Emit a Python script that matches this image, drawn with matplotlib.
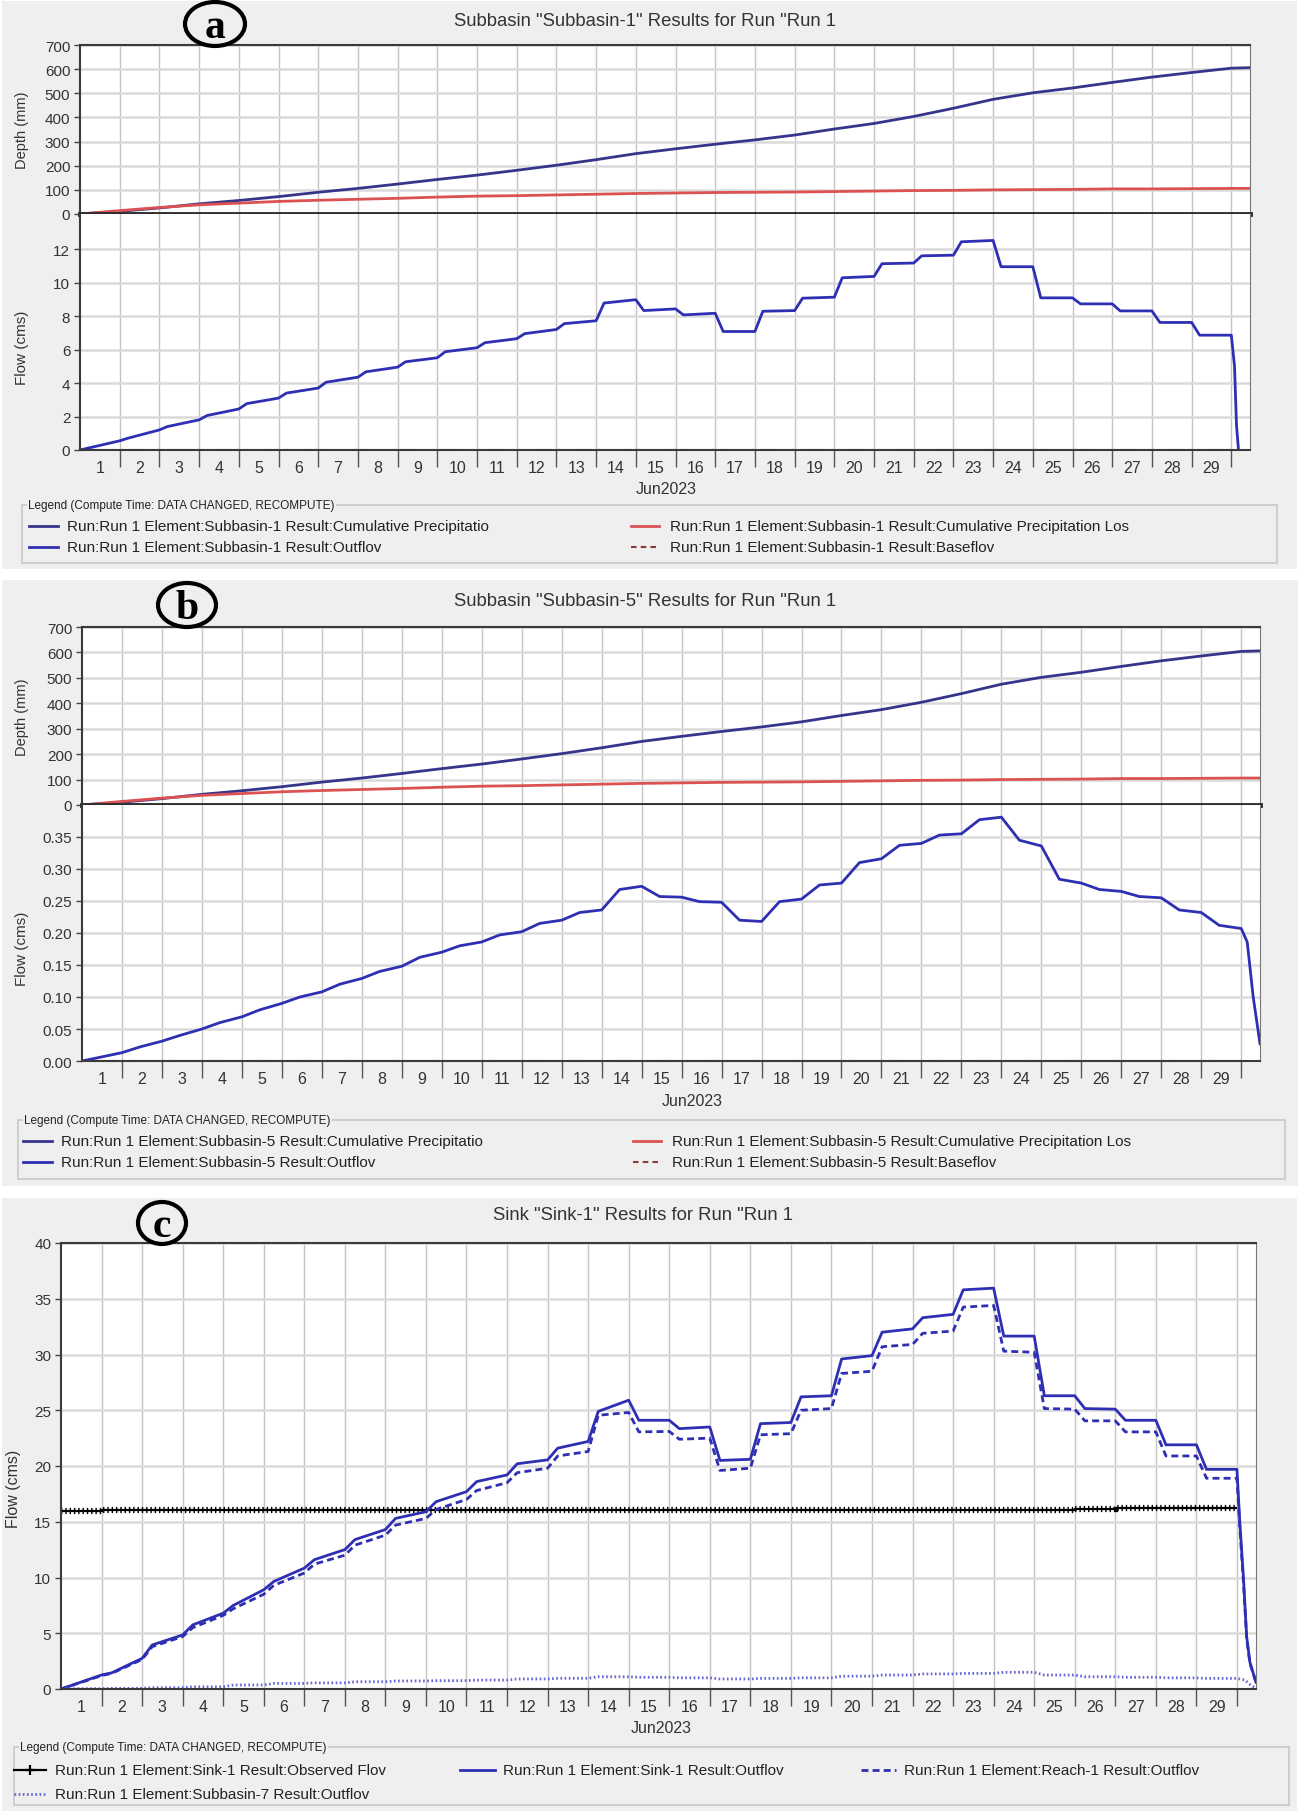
import numpy as np
import matplotlib
matplotlib.use("Agg")
import matplotlib.pyplot as plt
from matplotlib import font_manager
from matplotlib.lines import Line2D
from matplotlib.patches import Rectangle, Ellipse

# ---- data (x in days since 1 Jun 2023 00:00) ----
day_labels = [str(d) for d in range(1, 30)]

# cumulative depth (mm) at each day boundary 0..29 and at the end of the run
depth_days = list(range(30)) + [29.45]
precip_cum = [0, 11, 25, 42, 56, 72, 90, 106, 124, 143, 161, 181, 202, 225, 250,
              270, 289, 307, 327, 352, 375, 404, 438, 475, 502, 522, 545, 567,
              586, 604, 606]
loss_cum = [0, 14, 27, 38, 45, 52, 57, 61, 65, 70, 74, 76, 79, 82, 85, 87, 89,
            90, 91, 93, 95, 97, 98, 100, 101, 102, 104, 104, 105, 106, 106]
baseflow = [0.0] * 29

# Subbasin-1 outflow (cms): level just after the daily step and at the end of each day
flow1_start = [0.0, 0.7, 1.4, 2.06, 2.77, 3.4, 4.05, 4.67, 5.27, 5.87, 6.41, 6.95,
               7.55, 8.78, 8.33, 8.07, 7.08, 8.29, 9.07, 10.29, 11.13, 11.6, 12.44,
               10.95, 9.09, 8.73, 8.31, 7.62, 6.86]
flow1_end = [0.55, 1.2, 1.8, 2.45, 3.1, 3.7, 4.35, 4.95, 5.51, 6.11, 6.65, 7.2,
             7.72, 8.98, 8.43, 8.17, 7.08, 8.33, 9.13, 10.37, 11.17, 11.64, 12.52,
             10.95, 9.09, 8.73, 8.31, 7.62, 6.86]
flow1_tail_t = [29.08, 29.13, 29.18]
flow1_tail_v = [5.0, 1.5, 0.0]

# Subbasin-5 outflow (cms)
flow5_start = [0.0, 0.022, 0.040, 0.060, 0.080, 0.100, 0.120, 0.140, 0.162, 0.180,
               0.197, 0.215, 0.232, 0.268, 0.257, 0.249, 0.220, 0.249, 0.275, 0.310,
               0.337, 0.353, 0.377, 0.345, 0.284, 0.268, 0.257, 0.236, 0.212]
flow5_end = [0.013, 0.031, 0.050, 0.069, 0.090, 0.108, 0.129, 0.148, 0.170, 0.186,
             0.202, 0.220, 0.236, 0.273, 0.256, 0.248, 0.218, 0.253, 0.278, 0.316,
             0.340, 0.355, 0.381, 0.336, 0.278, 0.265, 0.255, 0.232, 0.207]
flow5_tail_t = [29.15, 29.3, 29.47]
flow5_tail_v = [0.186, 0.10, 0.027]

# Sink-1 (cms)
observed = [15.95, 16.02] + [16.05] * 23 + [16.12, 16.2, 16.2, 16.2]
sink_start = [0.0, 1.45, 3.95, 5.75, 7.5, 9.65, 11.6, 13.4, 15.3, 16.8, 18.6, 20.2,
              21.6, 24.9, 24.1, 23.35, 20.5, 23.8, 26.2, 29.6, 32.0, 33.3, 35.8,
              31.65, 26.3, 25.15, 24.1, 21.9, 19.7]
sink_end = [1.26, 2.75, 4.85, 6.8, 8.9, 10.84, 12.5, 14.3, 15.9, 17.7, 19.2, 20.55,
            22.2, 25.9, 24.1, 23.5, 20.6, 23.9, 26.3, 29.9, 32.3, 33.6, 35.95,
            31.65, 26.3, 25.1, 24.1, 21.9, 19.7]
sink_tail_t = [29.07, 29.16, 29.24, 29.32, 29.47]
sink_tail_v = [15.0, 10.0, 4.7, 2.4, 0.6]
reach_start = [0.0, 1.4, 3.8, 5.5, 7.2, 9.3, 11.2, 12.9, 14.7, 16.1, 17.8, 19.4,
               20.9, 24.55, 23.06, 22.4, 19.6, 22.8, 25.0, 28.3, 30.7, 31.9, 34.25,
               30.3, 25.15, 24.05, 23.06, 20.9, 18.9]
reach_end = [1.2, 2.65, 4.7, 6.6, 8.5, 10.4, 12.0, 13.8, 15.3, 17.0, 18.5, 19.8,
             21.3, 24.8, 23.1, 22.5, 19.8, 22.9, 25.15, 28.5, 30.9, 32.1, 34.4,
             30.2, 25.1, 24.05, 23.06, 20.9, 18.9]
reach_tail_t = [29.07, 29.16, 29.24, 29.32, 29.47]
reach_tail_v = [14.5, 9.6, 4.5, 2.3, 0.6]
sub7_level = [0.03, 0.06, 0.12, 0.2, 0.36, 0.5, 0.55, 0.65, 0.72, 0.75, 0.8, 0.9,
              0.96, 1.1, 1.05, 1.0, 0.9, 0.95, 1.0, 1.15, 1.25, 1.35, 1.4, 1.5,
              1.25, 1.1, 1.05, 1.0, 0.95]
sub7_tail_t = [29.2, 29.35, 29.47]
sub7_tail_v = [0.8, 0.3, 0.1]

# ---- styling ----
W, H = 1300, 1815
names = {f.name for f in font_manager.fontManager.ttflist}
if "Liberation Sans Narrow" in names:
    FONT, K = "Liberation Sans Narrow", 1.18
else:
    FONT, K = "Liberation Sans", 1.0
plt.rcParams["font.family"] = [FONT, "DejaVu Sans"]
plt.rcParams["lines.scale_dashes"] = False

C_PRECIP = "#35358c"
C_LOSS = "#dc5252"
C_FLOW = "#2f2fb4"
C_BASE = "#8b3c3c"
C_DOT = "#6666d6"
TXT = "#333333"
XMAX = 29.47
LEG_FS = 11 * K

fig = plt.figure(figsize=(W / 100, H / 100), dpi=100)


def box(x0, y0, x1, y1):
    return [x0 / W, 1 - y1 / H, (x1 - x0) / W, (y1 - y0) / H]


def fx(x):
    return x / W


def fy(y):
    return 1 - y / H


def step_curve(start, end, lag, tail_t, tail_v):
    xs, ys = [0.0], [start[0]]
    for k in range(len(start)):
        if k > 0:
            xs.append(k + lag)
            ys.append(start[k])
        xs.append(k + 1)
        ys.append(end[k])
    return xs + list(tail_t), ys + list(tail_v)


def style_axes(ax, yticks, fmt="{:g}"):
    ax.set_xlim(0, XMAX)
    ax.set_facecolor("white")
    ax.set_yticks(yticks)
    ax.set_yticklabels([fmt.format(v) for v in yticks])
    ax.set_xticks(range(1, 30))
    ax.grid(axis="x", which="major", color="#c4c4c4", lw=1.0)
    ax.grid(axis="y", color="#dadada", lw=1.8)
    ax.set_axisbelow(True)
    ax.tick_params(axis="y", length=4, width=1, color="#444", pad=3,
                   labelsize=11 * K, labelcolor=TXT)
    for s in ("top", "left", "bottom"):
        ax.spines[s].set_color("#3a3a3a")
        ax.spines[s].set_linewidth(1.5)
    ax.spines["right"].set_color("#777")


def bottom_days(ax):
    ax.tick_params(axis="x", which="major", length=12, width=1, color="#555",
                   labelbottom=False)
    ax.set_xticks(np.arange(0.5, 29), minor=True)
    ax.set_xticklabels(day_labels, minor=True)
    ax.tick_params(axis="x", which="minor", length=0, pad=7,
                   labelsize=11.5 * K, labelcolor=TXT)


def panel_frame(bg, title, tx, ty, letter, lx, ly, ew, eh):
    fig.add_artist(Rectangle((fx(bg[0]), fy(bg[3])), (bg[2] - bg[0]) / W,
                             (bg[3] - bg[1]) / H, transform=fig.transFigure,
                             facecolor="#efefef", edgecolor="none", zorder=-5))
    fig.text(fx(tx), fy(ty), title, ha="center", va="center",
             fontsize=13.3 * K, color=TXT)
    fig.add_artist(Ellipse((fx(lx), fy(ly)), ew / W, eh / H,
                           transform=fig.transFigure, fill=False,
                           edgecolor="black", lw=3, zorder=10))
    fig.text(fx(lx), fy(ly + 3), letter, ha="center", va="center",
             fontsize=30, fontweight="bold", family="Liberation Serif",
             zorder=11)


def legend_box(x0, y0, x1, y1, rows):
    fig.add_artist(Rectangle((fx(x0), fy(y1)), (x1 - x0) / W, (y1 - y0) / H,
                             transform=fig.transFigure, facecolor="none",
                             edgecolor="#c8c8c8", lw=1.2))
    fig.text(fx(x0 + 6), fy(y0), "Legend (Compute Time: DATA CHANGED, RECOMPUTE)",
             ha="left", va="center", fontsize=8.5 * K, color="#222",
             bbox=dict(facecolor="#efefef", edgecolor="none", pad=1))
    for (hx0, hx1, tx, y, label, kw) in rows:
        fig.add_artist(Line2D([fx(hx0), fx(hx1)], [fy(y), fy(y)],
                              transform=fig.transFigure, **kw))
        fig.text(fx(tx), fy(y), label, ha="left", va="center",
                 fontsize=LEG_FS, color="#222")


def subbasin_panel(name, ax_x, depth_y, flow_y, flow_top, flow_ticks,
                   flow_fmt, flow_xy, jun_x, leg):
    dax = fig.add_axes(box(ax_x[0], depth_y[0], ax_x[1], depth_y[1]))
    fax = fig.add_axes(box(ax_x[0], flow_y[0], ax_x[1], flow_y[1]))

    dax.plot(depth_days, precip_cum, color=C_PRECIP, lw=2)
    dax.plot(depth_days, loss_cum, color=C_LOSS, lw=2)
    dax.set_ylim(0, 700)
    style_axes(dax, range(0, 701, 100))
    dax.tick_params(axis="x", length=0, labelbottom=False)
    dax.spines["bottom"].set_linewidth(3.5)
    dax.spines["bottom"].set_color("#2e2e2e")

    fx_, fy_ = flow_xy
    fax.plot(fx_, fy_, color=C_FLOW, lw=2)
    fax.stairs(baseflow, np.arange(30), baseline=None, color=C_BASE, lw=1.5,
               linestyle=(0, (4, 3)))
    fax.set_ylim(0, flow_top)
    style_axes(fax, flow_ticks, flow_fmt)
    fax.spines["top"].set_visible(False)
    bottom_days(fax)

    fig.text(fx(22), fy((depth_y[0] + depth_y[1]) / 2), "Depth (mm)", rotation=90,
             ha="center", va="center", fontsize=10.5 * K, color=TXT)
    fig.text(fx(22), fy((flow_y[0] + flow_y[1]) / 2 + 15), "Flow (cms)",
             rotation=90, ha="center", va="center", fontsize=11 * K, color=TXT)
    fig.text(fx(jun_x), fy(flow_y[1] + 39), "Jun2023", ha="center", va="center",
             fontsize=11.5 * K, color=TXT)

    lx0, ly0, lx1, ly1, c1, c2 = leg
    base = "Run:Run 1 Element:%s Result:" % name
    legend_box(lx0, ly0, lx1, ly1, [
        (c1, c1 + 29, c1 + 38, ly0 + 21, base + "Cumulative Precipitatio",
         dict(color=C_PRECIP, lw=2)),
        (c2, c2 + 28, c2 + 39, ly0 + 21, base + "Cumulative Precipitation Los",
         dict(color=C_LOSS, lw=2)),
        (c1, c1 + 29, c1 + 38, ly0 + 42, base + "Outflov",
         dict(color=C_FLOW, lw=2)),
        (c2, c2 + 28, c2 + 39, ly0 + 42, base + "Baseflov",
         dict(color=C_BASE, lw=1.5, linestyle=(0, (4, 3)))),
    ])


# ---------------- panel a ----------------
panel_frame((2, 2, 1297, 570), 'Subbasin "Subbasin-1" Results for Run "Run 1',
            645, 21, "a", 215, 25, 60, 44)
subbasin_panel("Subbasin-1", (80, 1250), (46, 215), (215, 451), 14.1,
               range(0, 13, 2), "{:g}",
               step_curve(flow1_start, flow1_end, 0.2, flow1_tail_t, flow1_tail_v),
               666, (22, 506, 1277, 564, 29, 631))

# ---------------- panel b ----------------
panel_frame((2, 581, 1298, 1187), 'Subbasin "Subbasin-5" Results for Run "Run 1',
            645, 601, "b", 187, 606, 58, 44)
subbasin_panel("Subbasin-5", (82, 1260), (628, 806), (806, 1062), 0.40,
               np.round(np.arange(0, 0.351, 0.05), 2), "{:.2f}",
               step_curve(flow5_start, flow5_end, 0.45, flow5_tail_t, flow5_tail_v),
               692, (18, 1121, 1285, 1180, 23, 633))

# ---------------- panel c ----------------
panel_frame((2, 1199, 1297, 1812), 'Sink "Sink-1" Results for Run "Run 1',
            643, 1215, "c", 162, 1224, 48, 42)
cax = fig.add_axes(box(61, 1244, 1256, 1690))
edges = np.arange(30)
cax.stairs(observed, edges, baseline=None, color="black", lw=1.6)
cax.stairs(observed, edges, baseline=None, color="black", lw=4.5,
           linestyle=(0, (1.0, 2.1)))
sx, sy = step_curve(sink_start, sink_end, 0.25, sink_tail_t, sink_tail_v)
cax.plot(sx, sy, color=C_FLOW, lw=2)
rx, ry = step_curve(reach_start, reach_end, 0.25, reach_tail_t, reach_tail_v)
cax.plot(rx, ry, color=C_FLOW, lw=2, linestyle=(0, (5, 3)))
ux, uy = step_curve(sub7_level, sub7_level, 0.25, sub7_tail_t, sub7_tail_v)
cax.plot(ux, uy, color=C_DOT, lw=2, linestyle=(0, (1.2, 1.8)))
cax.set_ylim(0, 40)
style_axes(cax, range(0, 41, 5))
bottom_days(cax)
fig.text(fx(14), fy(1489), "Flow (cms)", rotation=90, ha="center", va="center",
         fontsize=11.5 * K, color=TXT)
fig.text(fx(661), fy(1729), "Jun2023", ha="center", va="center",
         fontsize=11.5 * K, color=TXT)

obs_handle = dict(color="black", lw=1.6, marker="+", markersize=7,
                  markevery=[1], markeredgewidth=1.6)
fig.add_artist(Line2D([fx(14), fx(30), fx(46)], [fy(1771)] * 3,
                      transform=fig.transFigure, **obs_handle))
legend_box(14, 1748, 1289, 1806, [
    (14, 14, 55, 1771, "Run:Run 1 Element:Sink-1 Result:Observed Flov",
     dict(color="none")),
    (460, 495, 503, 1771, "Run:Run 1 Element:Sink-1 Result:Outflov",
     dict(color=C_FLOW, lw=2)),
    (861, 896, 904, 1771, "Run:Run 1 Element:Reach-1 Result:Outflov",
     dict(color=C_FLOW, lw=2, linestyle=(0, (5, 3)))),
    (14, 46, 55, 1795, "Run:Run 1 Element:Subbasin-7 Result:Outflov",
     dict(color=C_DOT, lw=2, linestyle=(0, (1.2, 1.8)))),
])

fig.savefig("out.png", dpi=100, facecolor="white")
